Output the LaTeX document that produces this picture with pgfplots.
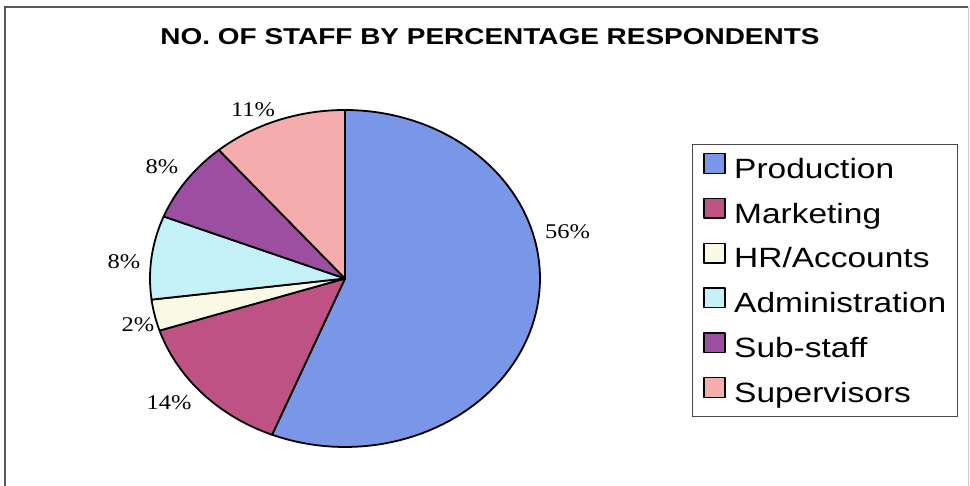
\documentclass[border=0pt]{standalone}
\usepackage{pgfplots}
\pgfplotsset{compat=1.18}
\usepackage{pgfplotstable}
\usepackage{fontspec}
\setmainfont{Liberation Serif}[FakeStretch=1.17]
\newfontfamily\arialw{Liberation Sans}[FakeStretch=1.2]
\newfontfamily\arialt{Liberation Sans}[FakeStretch=1.22]

\definecolor{cProd}{RGB}{122,150,230}
\definecolor{cMkt}{RGB}{190,82,132}
\definecolor{cHR}{RGB}{250,250,228}
\definecolor{cAdm}{RGB}{196,240,248}
\definecolor{cSub}{RGB}{156,78,160}
\definecolor{cSup}{RGB}{245,172,172}

% share of respondents (%) read off the wedges, clockwise from 12 o'clock
\pgfplotstableread{
name value color
Production 56.1 cProd
Marketing 13.9 cMkt
HR/Accounts 3.0 cHR
Administration 8.0 cAdm
Sub-staff 7.8 cSub
Supervisors 11.2 cSup
}\piedata

\begin{document}
\begin{tikzpicture}
\path[use as bounding box] (0bp,0bp) rectangle (970bp,486bp);
\fill[white] (0bp,0bp) rectangle (970bp,486bp);
\draw[black!65, line width=1.3bp] (5bp,0bp) -- (5bp,479bp) -- (968bp,479bp);
\draw[black!20, line width=1bp] (968bp,479bp) -- (968bp,0bp);
\node[font=\arialt\bfseries\fontsize{23}{27}\selectfont, inner sep=0pt] at (490bp,449bp) {NO. OF STAFF BY PERCENTAGE RESPONDENTS};
\begin{axis}[
  scale only axis, width=390bp, height=337bp,
  at={(150bp,39bp)}, anchor=south west,
  xmin=-1, xmax=1, ymin=-1, ymax=1,
  hide axis, clip=false,
  legend cell align=left,
  legend image code/.code={%
    \path[draw=none, fill=none] (0bp,0bp) (30bp,0bp);
    \draw[#1, line width=1.4bp] (0bp,-2bp) rectangle (21bp,17.5bp);},
  legend style={at={(1.3897,0.8991)}, anchor=north west,
    draw=black!70, line width=1bp, fill=white,
    font=\arialw\fontsize{28}{34}\selectfont,
    inner xsep=11bp, inner ysep=8.5bp,
    row sep=13.6bp,
    nodes={inner sep=0bp, text height=20bp, text depth=6bp}},
]
\def\acc{90}
\pgfplotsforeachungrouped \i in {0,...,5}{%
  \pgfplotstablegetelem{\i}{value}\of\piedata \let\myv\pgfplotsretval
  \pgfplotstablegetelem{\i}{color}\of\piedata \let\myc\pgfplotsretval
  \pgfplotstablegetelem{\i}{name}\of\piedata \let\myn\pgfplotsretval
  \pgfmathsetmacro\bnew{\acc-3.6*\myv}%
  \edef\cmd{\noexpand\addplot[fill=\myc, draw=black, line width=1.8bp, line join=round, domain=\bnew:\acc, samples=90, variable=\noexpand\t] ({cos(\noexpand\t)},{sin(\noexpand\t)}) -- (axis cs:0,0) -- cycle; \noexpand\addlegendentry{\myn}}%
  \cmd
  \let\acc\bnew
}
\end{axis}
\begin{scope}[every node/.style={font=\fontsize{21}{24}\selectfont, inner sep=0pt}]
\node at (567.5bp,254bp) {56\%};
\node at (253bp,376bp) {11\%};
\node at (162bp,319bp) {8\%};
\node at (124bp,224bp) {8\%};
\node at (138bp,161bp) {2\%};
\node at (169bp,83bp) {14\%};
\end{scope}
\end{tikzpicture}
\end{document}
